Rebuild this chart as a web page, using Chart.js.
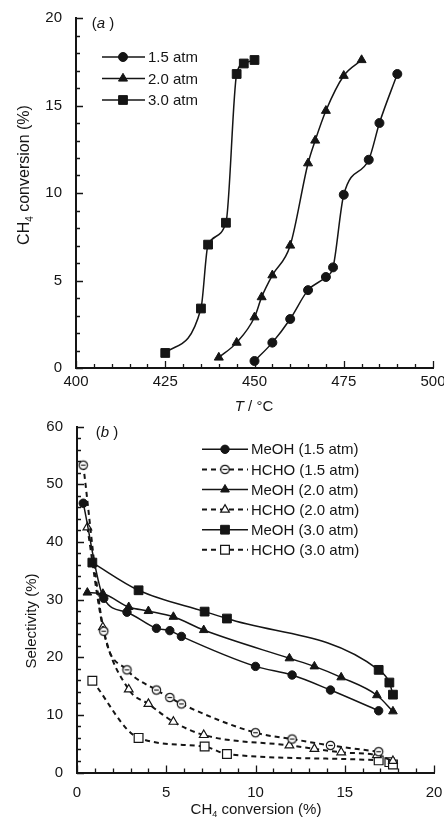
<!DOCTYPE html>
<html>
<head>
<meta charset="utf-8">
<title>CH4 conversion and selectivity</title>
<script src="https://cdn.jsdelivr.net/npm/chart.js@4.4.1/dist/chart.umd.min.js"></script>
<style>
	html, body { margin: 0; padding: 0; background: #fff; }
	#wrap { position: relative; width: 444px; height: 823px; }
	#wrap canvas { position: absolute; left: 0; }
	#chart-a { top: 0; }
	#chart-b { top: 415px; }
</style>
</head>
<body>
<div id="wrap">
	<canvas id="chart-a" width="444" height="415"></canvas>
	<canvas id="chart-b" width="444" height="408"></canvas>
</div>
<script>
// (a) CH4 conversion vs temperature
var tempA15 = [450, 455, 460, 465, 470, 472, 475, 482, 485, 490];
var convA15 = [0.4, 1.45, 2.8, 4.45, 5.2, 5.75, 9.9, 11.9, 14.0, 16.8];
var tempA20 = [440, 445, 450, 452, 455, 460, 465, 467, 470, 475, 480];
var convA20 = [0.6, 1.45, 2.9, 4.05, 5.3, 7.0, 11.7, 13.0, 14.7, 16.7, 17.6];
var tempA30 = [425, 435, 437, 442, 445, 447, 450];
var convA30 = [0.86, 3.4, 7.05, 8.3, 16.8, 17.4, 17.6];

// (b) selectivity vs CH4 conversion
var convB15 = [0.35, 1.5, 2.8, 4.45, 5.2, 5.85, 10.0, 12.05, 14.2, 16.9];
var meohB15 = [46.7, 30.2, 27.8, 25.0, 24.6, 23.6, 18.4, 16.9, 14.3, 10.7];
var hchoB15 = [53.3, 24.5, 17.8, 14.3, 13.0, 11.9, 6.9, 5.8, 4.7, 3.6];
var convB20 = [0.58, 1.45, 2.9, 4.0, 5.4, 7.1, 11.9, 13.3, 14.8, 16.8, 17.7];
var meohB20 = [31.2, 31.0, 28.7, 28.0, 27.0, 24.7, 19.8, 18.4, 16.5, 13.4, 10.6];
var hchoB20 = [42.5, 25.2, 14.4, 11.9, 8.8, 6.5, 4.7, 4.1, 3.5, 3.0, 2.0];
var convB30 = [0.86, 3.45, 7.15, 8.4, 16.9, 17.5, 17.7];
var meohB30 = [36.4, 31.6, 27.9, 26.7, 17.8, 15.6, 13.5];
var hchoB30 = [15.9, 6.0, 4.5, 3.2, 2.1, 1.8, 1.4];

var INK = '#151515';
var FONT = "'Liberation Sans', Arial, Helvetica, sans-serif";

Chart.defaults.font.family = FONT;
Chart.defaults.font.size = 15;
Chart.defaults.color = INK;

function puntos(xs, ys) {
	return xs.map(function (x, i) { return { x: x, y: ys[i] }; });
}

// circulo abierto con barra, para HCHO 1.5 atm
function circuloBarra(r) {
	var c = document.createElement('canvas');
	var s = Math.ceil(2 * r + 4);
	c.width = s; c.height = s;
	var g = c.getContext('2d');
	g.fillStyle = '#fff';
	g.strokeStyle = INK;
	g.lineWidth = 1.2;
	g.beginPath();
	g.arc(s / 2, s / 2, r, 0, 2 * Math.PI);
	g.fill();
	g.stroke();
	g.beginPath();
	g.moveTo(s / 2 - r * 0.55, s / 2);
	g.lineTo(s / 2 + r * 0.55, s / 2);
	g.stroke();
	return c;
}

function serie(label, data, estilo, radio, lleno, dash) {
	return {
		label: label,
		data: data,
		borderColor: INK,
		borderWidth: dash ? 2 : 1.5,
		borderDash: dash || [],
		cubicInterpolationMode: 'monotone',
		pointStyle: estilo,
		pointRadius: radio,
		pointBackgroundColor: lleno ? INK : '#fff',
		pointBorderColor: INK,
		pointBorderWidth: lleno ? 1 : 1.2,
		fill: false,
	};
}

// ticks hacia adentro, mayores y menores
var ticksInternos = {
	id: 'ticksInternos',
	afterDraw: function (chart, args, o) {
		var ctx = chart.ctx, a = chart.chartArea;
		var xs = chart.scales.x, ys = chart.scales.y;
		ctx.save();
		ctx.strokeStyle = INK;
		ctx.lineWidth = 1.3;
		ctx.beginPath();
		var n = Math.round((xs.max - xs.min) / o.xMinor);
		for (var i = 0; i <= n; i++) {
			var v = xs.min + i * o.xMinor;
			var px = Math.round(xs.getPixelForValue(v)) + 0.5;
			var len = (i % o.xEvery === 0) ? 7 : 4;
			ctx.moveTo(px, a.bottom);
			ctx.lineTo(px, a.bottom - len);
		}
		n = Math.round((ys.max - ys.min) / o.yMinor);
		for (i = 0; i <= n; i++) {
			v = ys.min + i * o.yMinor;
			var py = Math.round(ys.getPixelForValue(v)) + 0.5;
			len = (i % o.yEvery === 0) ? 7 : 4;
			ctx.moveTo(a.left, py);
			ctx.lineTo(a.left + len, py);
		}
		ctx.stroke();
		ctx.restore();
	}
};

// leyenda con linea + marcador
var leyenda = {
	id: 'leyenda',
	afterDraw: function (chart, args, o) {
		var ctx = chart.ctx;
		chart.data.datasets.forEach(function (ds, i) {
			var y = o.y0 + i * o.dy;
			ctx.save();
			ctx.strokeStyle = INK;
			ctx.lineWidth = ds.borderWidth;
			ctx.setLineDash(ds.borderDash);
			ctx.beginPath();
			ctx.moveTo(o.x0, y);
			ctx.lineTo(o.x1, y);
			ctx.stroke();
			ctx.setLineDash([]);
			ctx.fillStyle = ds.pointBackgroundColor;
			ctx.strokeStyle = INK;
			ctx.lineWidth = ds.pointBorderWidth;
			Chart.helpers.drawPoint(ctx, {
				pointStyle: ds.pointStyle, radius: ds.pointRadius, rotation: 0, borderWidth: ds.pointBorderWidth
			}, o.xm, y);
			ctx.fillStyle = INK;
			ctx.font = '15px ' + FONT;
			ctx.textBaseline = 'middle';
			ctx.textAlign = 'left';
			ctx.fillText(ds.label, o.xt, y + 1);
			ctx.restore();
		});
	}
};

// textos con cursiva / subindice (titulos de ejes, etiqueta de panel)
var textos = {
	id: 'textos',
	afterDraw: function (chart, args, o) {
		var ctx = chart.ctx;
		o.items.forEach(function (it) {
			ctx.save();
			ctx.translate(it.x, it.y);
			ctx.rotate(it.rot || 0);
			ctx.fillStyle = INK;
			ctx.textBaseline = 'middle';
			ctx.textAlign = 'left';
			var total = 0;
			it.parts.forEach(function (p) {
				ctx.font = p.f + ' ' + FONT;
				total += ctx.measureText(p.t).width;
			});
			var x = -total / 2;
			it.parts.forEach(function (p) {
				ctx.font = p.f + ' ' + FONT;
				ctx.fillText(p.t, x, p.dy || 0);
				x += ctx.measureText(p.t).width;
			});
			ctx.restore();
		});
	}
};

function escalas(xMin, xMax, xStep, yMin, yMax, yStep, yAncho, xAlto, xPad) {
	return {
		x: {
			type: 'linear', min: xMin, max: xMax,
			grid: { drawOnChartArea: false, drawTicks: false },
			border: { color: INK, width: 2 },
			ticks: { stepSize: xStep, padding: xPad, maxRotation: 0, color: INK },
			afterFit: function (s) { s.height = xAlto; s.paddingLeft = 0; s.paddingRight = 0; },
		},
		y: {
			type: 'linear', min: yMin, max: yMax,
			grid: { drawOnChartArea: false, drawTicks: false },
			border: { color: INK, width: 2 },
			ticks: { stepSize: yStep, padding: 14, color: INK },
			afterFit: function (s) { s.width = yAncho; s.paddingTop = 0; s.paddingBottom = 0; },
		},
	};
}

var comunes = {
	responsive: false,
	animation: false,
	events: [],
};

new Chart(document.getElementById('chart-a'), {
	type: 'line',
	data: {
		datasets: [
			serie('1.5 atm', puntos(tempA15, convA15), 'circle', 4.5, true),
			serie('2.0 atm', puntos(tempA20, convA20), 'triangle', 5.2, true),
			serie('3.0 atm', puntos(tempA30, convA30), 'rect', 6.2, true),
		],
	},
	options: Object.assign({}, comunes, {
		layout: { padding: { left: 0, right: 11, top: 18, bottom: 0 } },
		scales: escalas(400, 500, 25, 0, 20, 5, 76, 47, 5),
		plugins: {
			legend: { display: false },
			tooltip: { enabled: false },
			ticksInternos: { xMinor: 5, xEvery: 5, yMinor: 1, yEvery: 5 },
			leyenda: { x0: 102, x1: 145, xm: 123, xt: 148, y0: 57, dy: 21.5 },
			textos: {
				items: [
					{ x: 103, y: 24, parts: [{ t: '(', f: '15px' }, { t: 'a', f: 'italic 15px' }, { t: ' )', f: '15px' }] },
					{ x: 25, y: 175, rot: -Math.PI / 2, parts: [
						{ t: 'CH', f: '16px' }, { t: '4', f: '10px', dy: 5 }, { t: ' conversion (%)', f: '16px' }
					] },
					{ x: 254, y: 407, parts: [{ t: 'T', f: 'italic 15px' }, { t: ' / \u00B0C', f: '15px' }] },
				],
			},
		},
	}),
	plugins: [ticksInternos, leyenda, textos],
});

new Chart(document.getElementById('chart-b'), {
	type: 'line',
	data: {
		datasets: [
			serie('MeOH (1.5 atm)', puntos(convB15, meohB15), 'circle', 4.2, true),
			serie('HCHO (1.5 atm)', puntos(convB15, hchoB15), circuloBarra(4.2), 4.2, false, [5, 4]),
			serie('MeOH (2.0 atm)', puntos(convB20, meohB20), 'triangle', 5, true),
			serie('HCHO (2.0 atm)', puntos(convB20, hchoB20), 'triangle', 5, false, [5, 4]),
			serie('MeOH (3.0 atm)', puntos(convB30, meohB30), 'rect', 6.2, true),
			serie('HCHO (3.0 atm)', puntos(convB30, hchoB30), 'rect', 6.2, false, [5, 4]),
		],
	},
	options: Object.assign({}, comunes, {
		layout: { padding: { left: 0, right: 10, top: 11.5, bottom: 0 } },
		scales: escalas(0, 20, 5, 0, 60, 10, 77, 50.5, 11),
		plugins: {
			legend: { display: false },
			tooltip: { enabled: false },
			ticksInternos: { xMinor: 1, xEvery: 5, yMinor: 2, yEvery: 5 },
			leyenda: { x0: 202, x1: 248, xm: 225, xt: 251, y0: 34.3, dy: 20.1 },
			textos: {
				items: [
					{ x: 107, y: 18, parts: [{ t: '(', f: '15px' }, { t: 'b', f: 'italic 15px' }, { t: ' )', f: '15px' }] },
					{ x: 32, y: 206, rot: -Math.PI / 2, parts: [{ t: 'Selectivity (%)', f: '15px' }] },
					{ x: 256, y: 395, parts: [
						{ t: 'CH', f: '15px' }, { t: '4', f: '9px', dy: 5 }, { t: ' conversion (%)', f: '15px' }
					] },
				],
			},
		},
	}),
	plugins: [ticksInternos, leyenda, textos],
});
</script>
</body>
</html>
